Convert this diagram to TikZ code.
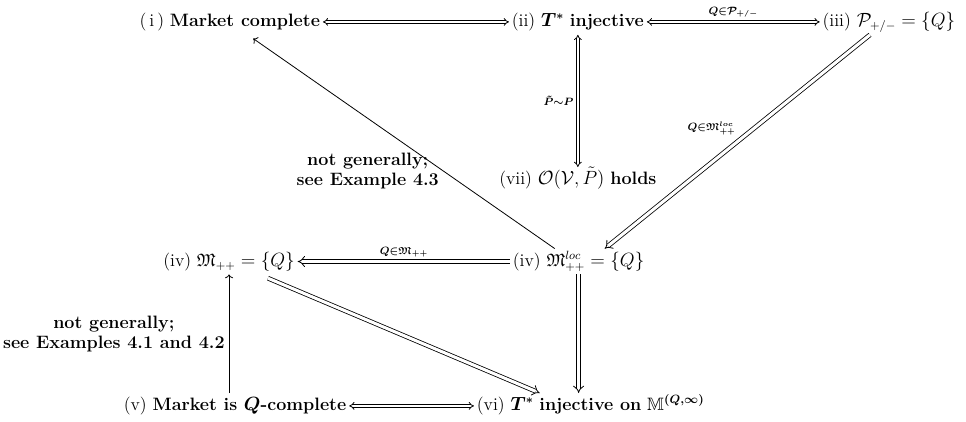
\documentclass[tikz,border=0pt]{standalone}
\usepackage{amsmath}
\usepackage{amssymb}
\usepackage{tikz}
\usetikzlibrary{arrows.meta, calc, positioning}
\tikzstyle{stmt} = [inner sep=2pt, text height=11pt, text depth=4pt, font=\fontsize{13.5}{16}\selectfont]
\tikzstyle{lbl} = [inner sep=3pt, font=\fontsize{11}{12}\selectfont\boldmath]
\tikzstyle{note} = [align=center, inner sep=3pt, font=\fontsize{13.5}{15}\selectfont\bfseries]
\tikzstyle{arrow} = [->, line width=0.6pt]
\tikzstyle{implies} = [-{Implies}, double, double distance=2.3pt, line width=0.6pt]
\tikzstyle{iff} = [{Implies}-{Implies}, line width=0.6pt, double=white, double equal sign distance]

\begin{document}
\begin{tikzpicture}
    \useasboundingbox (0,0) rectangle (25.56,11.14);

    % Top row
    \node[stmt] (mc) at (6.08, 10.56) {(\,i\,) \textbf{Market complete}};
    \node[stmt] (inj) at (15.29, 10.56) {(ii) {\boldmath$T^*$} \textbf{injective}};
    \node[stmt] (pset) at (23.52, 10.56) {(iii) $\mathcal{P}_{+/-} = \{Q\}$};

    % Middle
    \node[stmt] (ocond) at (15.29, 6.38) {(vii) $\mathcal{O}(\mathcal{V},\tilde{P})$ \textbf{holds}};

    % Martingale measures
    \node[stmt] (mpp) at (6.06, 4.22) {(iv) $\mathfrak{M}_{++} = \{Q\}$};
    \node[stmt] (mloc) at (15.31, 4.22) {(iv) $\mathfrak{M}^{loc}_{++} = \{Q\}$};

    % Bottom row
    \node[stmt] (qc) at (6.22, 0.40) {(v) \textbf{Market is {\boldmath$Q$}-complete}};
    \node[stmt] (injq) at (15.63, 0.40) {(vi) {\boldmath$T^*$} \textbf{injective on} {\boldmath$\mathbb{M}^{(Q,\infty)}$}};

    % Arrows
    \draw[iff] (mc) -- (inj);
    \draw[iff] (inj) -- (pset) node[midway, above, lbl] {$\scriptstyle Q\in\mathcal{P}_{+/-}$};
    \draw[iff] (inj) -- (ocond) node[midway, left, lbl] {$\scriptstyle \tilde{P}\sim P$};
    \draw[implies] ($(pset.south)+(-0.5,0)$) -- ($(mloc.north)+(0.69,0)$)
        node[pos=0.49, anchor=south east, inner sep=1pt, lbl] {$\scriptstyle Q\in\mathfrak{M}^{loc}_{++}$};
    \draw[arrow] ($(mloc.north)+(-0.63,0)$) -- ($(mc.south)+(0.62,-0.1)$)
        node[pos=0.37, left, note] {not generally;\\see Example 4.3};
    \draw[implies] (mloc) -- (mpp) node[midway, above, lbl] {$\scriptstyle Q\in\mathfrak{M}_{++}$};
    \draw[implies] (mloc.south) -- (mloc.south |- injq.north);
    \draw[implies] ($(mpp.south)+(1.03,-0.1)$) -- ($(injq.north)+(-1.35,0)$);
    \draw[arrow] (qc.north -| mpp.south) -- (mpp.south)
        node[midway, left, note] {not generally;\\see Examples 4.1 and 4.2};
    \draw[iff] (qc) -- (injq);
\end{tikzpicture}
\end{document}
